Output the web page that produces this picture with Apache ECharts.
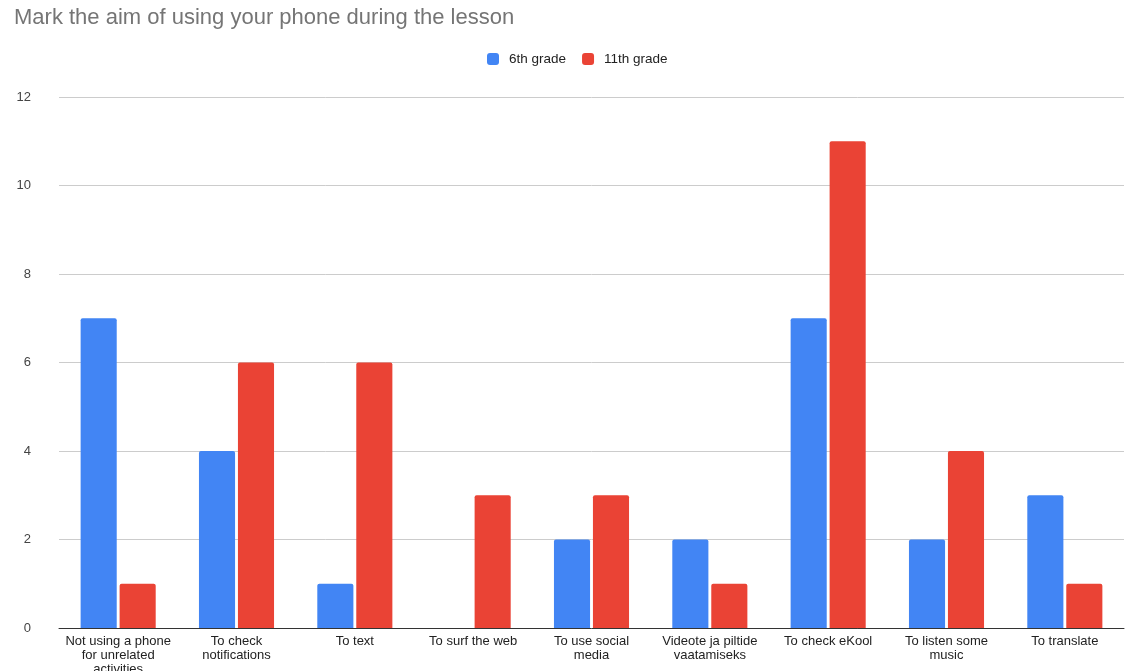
<!DOCTYPE html>
<html>
<head>
<meta charset="utf-8">
<style>
  html, body { margin: 0; padding: 0; background: #fff; }
  #chart { width: 1134px; height: 671px; }
</style>
<script src="https://cdn.jsdelivr.net/npm/echarts@6/dist/echarts.min.js"></script>
</head>
<body>
<div id="chart"></div>
<script>
// Survey answers: reasons for using a phone during the lesson
const categories = [
  'Not using a phone\nfor unrelated\nactivities',
  'To check\nnotifications',
  'To text',
  'To surf the web',
  'To use social\nmedia',
  'Videote ja piltide\nvaatamiseks',
  'To check eKool',
  'To listen some\nmusic',
  'To translate'
];
const grade6 = [7, 4, 1, 0, 2, 2, 7, 2, 3];
const grade11 = [1, 6, 6, 3, 3, 1, 11, 4, 1];
const seriesNames = ['6th grade', '11th grade'];
const yTicks = { min: 0, max: 12, interval: 2 };

const font = '"Liberation Sans", Arial, sans-serif';
const chart = echarts.init(document.getElementById('chart'), null, { renderer: 'canvas' });

chart.setOption({
  animation: false,
  backgroundColor: '#ffffff',
  title: {
    text: 'Mark the aim of using your phone during the lesson',
    left: 9,
    top: 2,
    textStyle: { fontFamily: font, fontSize: 22, fontWeight: 'normal', color: '#757575' }
  },
  legend: {
    data: seriesNames,
    top: 52,
    left: 487,
    itemWidth: 12,
    itemHeight: 12,
    itemGap: 16,
    padding: 0,
    icon: 'roundRect',
    textStyle: { fontFamily: font, fontSize: 13.5, color: '#222', padding: [0, 0, 0, 5] }
  },
  grid: { left: 59, right: 10, top: 97, bottom: 43, outerBoundsMode: 'none', containLabel: false },
  xAxis: {
    type: 'category',
    data: categories,
    axisTick: { show: false },
    axisLine: { lineStyle: { color: '#333', width: 1 } },
    axisLabel: {
      fontFamily: font, fontSize: 13, color: '#222', margin: 6, lineHeight: 14, interval: 0
    }
  },
  yAxis: {
    type: 'value',
    min: yTicks.min,
    max: yTicks.max,
    interval: yTicks.interval,
    axisLine: { show: false },
    axisTick: { show: false },
    splitLine: { lineStyle: { color: '#cccccc', width: 1 } },
    axisLabel: { fontFamily: font, fontSize: 13, color: '#444', margin: 28 }
  },
  series: [
    {
      name: seriesNames[0],
      type: 'bar',
      data: grade6,
      barWidth: '30.5%',
      barGap: '8%',
      itemStyle: { color: '#4285f4', borderRadius: [2, 2, 0, 0] }
    },
    {
      name: seriesNames[1],
      type: 'bar',
      data: grade11,
      barWidth: '30.5%',
      itemStyle: { color: '#ea4335', borderRadius: [2, 2, 0, 0] }
    }
  ]
});
</script>
</body>
</html>
